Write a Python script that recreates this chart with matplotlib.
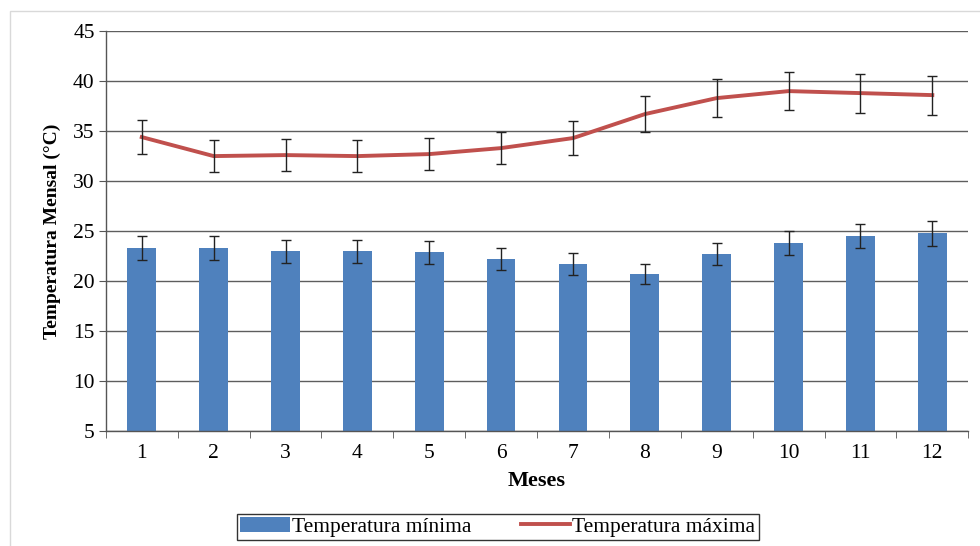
import numpy as np
import matplotlib
matplotlib.use("Agg")
import matplotlib.pyplot as plt
from matplotlib.patches import Rectangle

plt.rcParams['font.family'] = ['Liberation Serif', 'DejaVu Serif']

# dados mensais
meses = [1, 2, 3, 4, 5, 6, 7, 8, 9, 10, 11, 12]
t_min = [23.3, 23.3, 23.0, 23.0, 22.9, 22.2, 21.7, 20.7, 22.7, 23.8, 24.5, 24.8]
t_min_err = [1.2, 1.2, 1.15, 1.15, 1.15, 1.1, 1.1, 1.0, 1.1, 1.2, 1.2, 1.25]
t_max = [34.4, 32.5, 32.6, 32.5, 32.7, 33.3, 34.3, 36.7, 38.3, 39.0, 38.8, 38.6]
t_max_err = [1.7, 1.6, 1.6, 1.6, 1.6, 1.6, 1.7, 1.8, 1.9, 1.9, 1.95, 1.95]

fig = plt.figure(figsize=(9.8, 5.46), dpi=100)
ax = fig.add_axes([0.108, 0.2106, 0.880, 0.7324])

x = np.array(meses)
bars = ax.bar(x, t_min, width=0.4, color='#4F81BD', label='Temperatura mínima', zorder=2)
ax.errorbar(x, t_min, yerr=t_min_err, fmt='none', ecolor='#222222', elinewidth=1,
            capsize=3.5, capthick=1, zorder=3)
line, = ax.plot(x, t_max, color='#C0504D', lw=2.8, label='Temperatura máxima', zorder=3)
ax.errorbar(x, t_max, yerr=t_max_err, fmt='none', ecolor='#222222', elinewidth=1,
            capsize=3.5, capthick=1, zorder=4)

ax.set_xlim(0.5, 12.5)
ax.set_ylim(5, 45)
ax.set_yticks(np.arange(5, 46, 5))
ax.set_xticks(x)
ax.set_xticks(np.arange(0.5, 13, 1), minor=True)
ax.tick_params(axis='x', which='major', length=0, labelsize=15.5, pad=9)
ax.tick_params(axis='x', which='minor', length=5, color='#555555', direction='out')
ax.tick_params(axis='y', length=5, color='#555555', labelsize=15.5, pad=3)
ax.yaxis.grid(True, color='#5e5e5e', lw=1, zorder=0)
ax.set_axisbelow(True)
for s in ['top', 'right']:
    ax.spines[s].set_visible(False)
for s in ['left', 'bottom']:
    ax.spines[s].set_color('#555555')
    ax.spines[s].set_linewidth(1)

ax.set_xlabel('Meses', fontsize=16, fontweight='bold', labelpad=6)
ax.set_ylabel('Temperatura Mensal (°C)', fontsize=14, fontweight='bold', labelpad=9)

leg = fig.legend(handles=[bars, line], labels=['Temperatura mínima', 'Temperatura máxima'],
                 loc='center', bbox_to_anchor=(0.508, 0.035), ncol=2, fontsize=15.5,
                 frameon=True, fancybox=False, edgecolor='black', handlelength=2.3,
                 columnspacing=2.3, borderpad=0.15, handletextpad=0.1, borderaxespad=0)
leg.get_frame().set_linewidth(1)

fig.patches.append(Rectangle((0.0102, -0.05), 1.1, 1.05 - 11 / 546, transform=fig.transFigure,
                             fill=False, edgecolor='#d9d9d9', lw=1))

fig.savefig('out.png', dpi=100)
